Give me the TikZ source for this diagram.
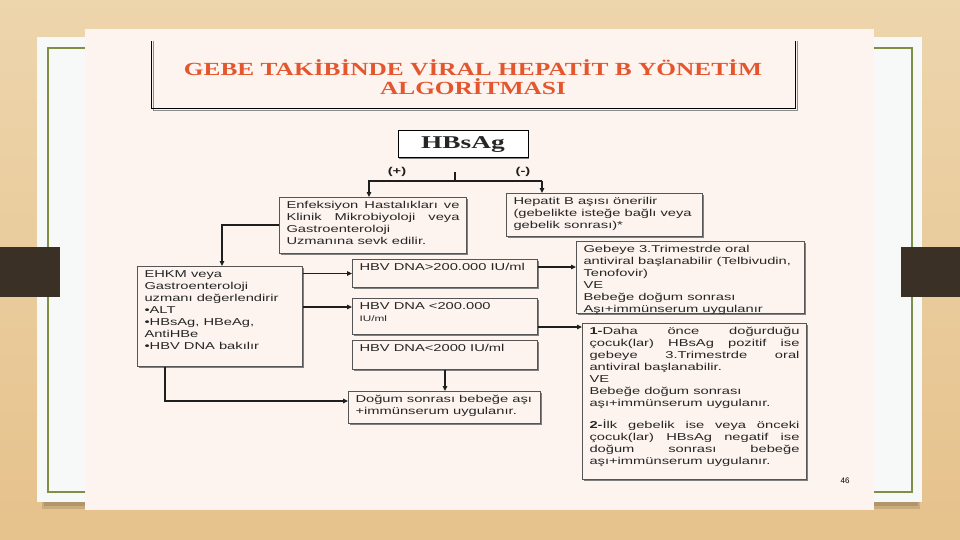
\documentclass[tikz,border=0pt]{standalone}
\usepackage{fontspec}
\setmainfont{Liberation Sans}
\newfontfamily\boxfam[FakeStretch=1.47]{Liberation Sans}
\newfontfamily\titlefam[FakeStretch=1.37]{Liberation Serif}
\newfontfamily\hbsfam[FakeStretch=1.52]{Liberation Serif}
\usetikzlibrary{shadows,arrows.meta}
\definecolor{wood}{HTML}{E6C28C}
\definecolor{woodtop}{HTML}{EDD5AC}
\definecolor{cardw}{HTML}{F7F8F8}
\definecolor{frameg}{HTML}{7D9046}
\definecolor{barc}{HTML}{3B3026}
\definecolor{pagepink}{HTML}{FDF4EF}
\definecolor{boxline}{HTML}{555555}
\definecolor{txt}{HTML}{262626}
\definecolor{titlered}{HTML}{E4572E}
\definecolor{lnk}{HTML}{1E1E1E}
\newcommand{\jline}[1]{\makebox[\linewidth][s]{#1}}
\tikzset{
  bx/.style={draw=boxline, line width=1pt, fill=pagepink, inner xsep=7pt, inner ysep=4pt,
    anchor=north west, font=\boxfam\fontsize{10}{12}\selectfont, text=txt,
    drop shadow={shadow xshift=1.3pt, shadow yshift=-1.3pt, fill=black!50, opacity=1}},
  arr/.style={-{Triangle[length=5pt,width=4.5pt]}, line width=1.1pt, draw=lnk},
  ln/.style={line width=1.1pt, draw=lnk},
  lbl/.style={font=\boxfam\bfseries\fontsize{10}{12}\selectfont, text=lnk}
}
\begin{document}
\begin{tikzpicture}[x=1pt,y=-1pt]
\useasboundingbox (0,0) rectangle (960,540);
% background
\shade[top color=woodtop, bottom color=wood] (0,0) rectangle (960,540);
\fill[black, opacity=0.12] (42,500) rectangle (920,509);
\fill[black, opacity=0.12] (44,501) rectangle (918,506);
\fill[cardw] (37,37) rectangle (922,502);
\draw[frameg, line width=2pt] (48,48) rectangle (912,492);
\fill[barc] (0,247) rectangle (60,297);
\fill[barc] (901,247) rectangle (960,297);
\fill[pagepink] (85,29) rectangle (874,510);
% title frame
\draw[black!45, line width=1pt] (153,41) -- (153,111) -- (797,111) -- (797,41);
\draw[black, line width=1pt] (151,41) -- (151,109) -- (795,109) -- (795,41);
\node[font=\titlefam\bfseries\fontsize{18.5}{19}\selectfont, text=titlered, align=center]
  (title) at (473,77) {GEBE TAKİBİNDE VİRAL HEPATİT B YÖNETİM\\ALGORİTMASI};
% HBsAg
\node[draw=black, line width=1pt, fill=white, minimum width=130pt, minimum height=27pt,
  drop shadow={shadow xshift=1.3pt, shadow yshift=-1.3pt, fill=black!50, opacity=1},
  font=\hbsfam\bfseries\fontsize{18}{18}\selectfont, text=black!85] (hbs) at (463,144.5) {HBsAg};
\node[lbl] (plus) at (397,172) {(+)};
\node[lbl] (minus) at (523,172) {(-)};
% boxes
\node[bx] (A) at (279,197) {\parbox[c][48pt][t]{173pt}{%
  \jline{Enfeksiyon Hastalıkları ve}\\
  \jline{Klinik Mikrobiyoloji veya}\\
  Gastroenteroloji\\
  Uzmanına sevk edilir.}};
\node[bx] (B) at (506,193) {\parbox[c][35pt][t]{182pt}{%
  Hepatit B aşısı önerilir\\
  (gebelikte isteğe bağlı veya\\
  gebelik sonrası)*}};
\node[bx] (C) at (137,266) {\parbox[c][92pt][t]{151pt}{%
  EHKM veya\\
  Gastroenteroloji\\
  uzmanı değerlendirir\\
  •ALT\\
  •HBsAg, HBeAg,\\
  AntiHBe\\
  •HBV DNA bakılır}};
\node[bx] (D) at (352,259) {\parbox[c][20pt][t]{171pt}{HBV DNA>200.000 IU/ml}};
\node[bx] (E) at (352,298) {\parbox[c][28pt][t]{171pt}{HBV DNA <200.000\\
  {\fontsize{8}{11}\selectfont IU/ml}}};
\node[bx] (F) at (352,340) {\parbox[c][21pt][t]{171pt}{HBV DNA<2000 IU/ml}};
\node[bx] (G) at (348,391) {\parbox[c][24pt][t]{178pt}{%
  Doğum sonrası bebeğe aşı\\
  +immünserum uygulanır.}};
\node[bx] (H) at (576,241) {\parbox[c][64pt][t]{214pt}{%
  Gebeye 3.Trimestrde oral\\
  antiviral başlanabilir (Telbivudin,\\
  Tenofovir)\\
  VE\\
  Bebeğe doğum sonrası\\
  Aşı+immünserum uygulanır}};
\node[bx] (I) at (582,323) {\parbox[c][148pt][t]{210pt}{%
  \jline{\textbf{1-}Daha önce doğurduğu}\\
  \jline{çocuk(lar) HBsAg pozitif ise}\\
  \jline{gebeye 3.Trimestrde oral}\\
  antiviral başlanabilir.\\
  VE\\
  Bebeğe doğum sonrası\\
  aşı+immünserum uygulanır.\\[10pt]
  \jline{\textbf{2-}İlk gebelik ise veya önceki}\\
  \jline{çocuk(lar) HBsAg negatif ise}\\
  \jline{doğum sonrası bebeğe}\\
  aşı+immünserum uygulanır.}};
\node[font=\fontsize{8}{8}\selectfont, text=black] (pg) at (845,481) {46};
% connectors
\coordinate (tk) at (455,172);
\coordinate (brL) at (369,181);
\coordinate (brR) at (542,181);
\draw[ln] (tk) -- (tk |- brL);
\draw[arr] (brR) -- (brL) -- (brL |- A.north);
\draw[arr] (brR) -- (brR |- B.north);
\coordinate (cA) at (222,225);
\draw[arr] (A.west |- cA) -- (cA) -- (cA |- C.north);
\draw[arr] (C.east |- D.west) -- (D.west);
\coordinate (cE) at (302,307);
\draw[arr] (C.east |- cE) -- (E.west |- cE);
\draw[arr] (F.south) -- (F.south |- G.north);
\coordinate (cG) at (165,401);
\draw[arr] (C.south -| cG) -- (cG) -- (G.west |- cG);
\coordinate (cH) at (537,267);
\draw[arr] (D.east |- cH) -- (H.west |- cH);
\coordinate (cI) at (537,327);
\draw[arr] (E.east |- cI) -- (I.west |- cI);
\end{tikzpicture}
\end{document}
